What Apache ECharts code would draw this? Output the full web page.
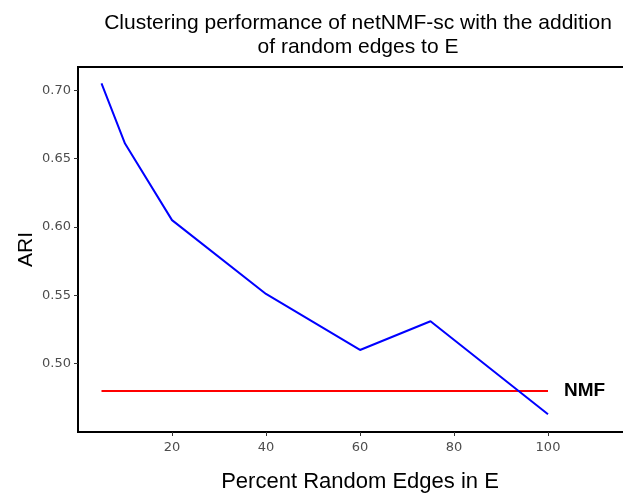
<!DOCTYPE html>
<html>
<head>
<meta charset="utf-8">
<script src="https://cdn.jsdelivr.net/npm/echarts@6/dist/echarts.min.js"></script>
<style>
    html, body { margin: 0; padding: 0; background: #fff; }
    #chart { width: 623px; height: 495px; }
</style>
</head>
<body>
<div id="chart"></div>
<script>
// percent of random edges added to E
let edgePercent = [5, 10, 20, 40, 60, 75, 100];
// ARI of netNMF-sc
let netnmfAri = [0.705, 0.661, 0.605, 0.551, 0.510, 0.531, 0.463];
// NMF baseline
let nmfPercent = [5, 100];
let nmfAri = [0.480, 0.480];

let yTicks = [0.50, 0.55, 0.60, 0.65, 0.70];
let xTicks = [20, 40, 60, 80, 100];

let pairs = (xs, ys) => xs.map((x, i) => [x, ys[i]]);

let chart = echarts.init(document.getElementById('chart'), null, { renderer: 'canvas' });

let option = {
    animation: false,
    textStyle: { fontFamily: 'Liberation Sans' },
    title: {
        text: 'Clustering performance of netNMF-sc with the addition\nof random edges to E',
        left: 353,
        textAlign: 'center',
        top: 6,
        textStyle: {
            fontSize: 21,
            fontWeight: 'normal',
            color: '#000',
            lineHeight: 24,
            fontFamily: 'Liberation Sans'
        }
    },
    grid: {
        left: 78,
        top: 67,
        right: -19,
        bottom: 63,
        show: true,
        borderColor: '#000',
        borderWidth: 2,
        outerBoundsMode: 'none',
        containLabel: false
    },
    xAxis: {
        type: 'value',
        min: 0,
        max: 120,
        name: 'Percent Random Edges in E',
        nameLocation: 'middle',
        nameGap: 39,
        nameMoveOverlap: false,
        nameTextStyle: { fontSize: 22, color: '#000', fontFamily: 'Liberation Sans' },
        axisLine: { show: false },
        splitLine: { show: false },
        axisTick: {
            show: true,
            length: 4,
            lineStyle: { color: '#333', width: 1 },
            customValues: xTicks
        },
        axisLabel: {
            color: '#4d4d4d',
            fontSize: 13,
            margin: 9,
            fontFamily: 'DejaVu Sans',
            customValues: xTicks
        }
    },
    yAxis: {
        type: 'value',
        min: 0.45,
        max: 0.717,
        name: 'ARI',
        nameLocation: 'middle',
        nameGap: 41,
        nameMoveOverlap: false,
        nameRotate: 90,
        nameTextStyle: { fontSize: 21, color: '#000', fontFamily: 'Liberation Sans' },
        axisLine: { show: false },
        splitLine: { show: false },
        axisTick: {
            show: true,
            length: 4,
            lineStyle: { color: '#333', width: 1 },
            customValues: yTicks
        },
        axisLabel: {
            color: '#4d4d4d',
            fontSize: 13,
            margin: 7,
            fontFamily: 'DejaVu Sans',
            customValues: yTicks,
            formatter: v => v.toFixed(2)
        }
    },
    series: [
        {
            name: 'netNMF-sc',
            type: 'line',
            data: pairs(edgePercent, netnmfAri),
            showSymbol: false,
            symbol: 'none',
            lineStyle: { color: '#0000ff', width: 2 },
            z: 3
        },
        {
            name: 'NMF',
            type: 'line',
            data: pairs(nmfPercent, nmfAri),
            showSymbol: false,
            symbol: 'none',
            lineStyle: { color: '#ff0000', width: 2 },
            endLabel: {
                show: true,
                formatter: 'NMF',
                distance: 16,
                color: '#000',
                fontSize: 19,
                fontWeight: 'bold',
                fontFamily: 'Liberation Sans'
            },
            z: 2
        }
    ]
};

chart.setOption(option);
</script>
</body>
</html>
